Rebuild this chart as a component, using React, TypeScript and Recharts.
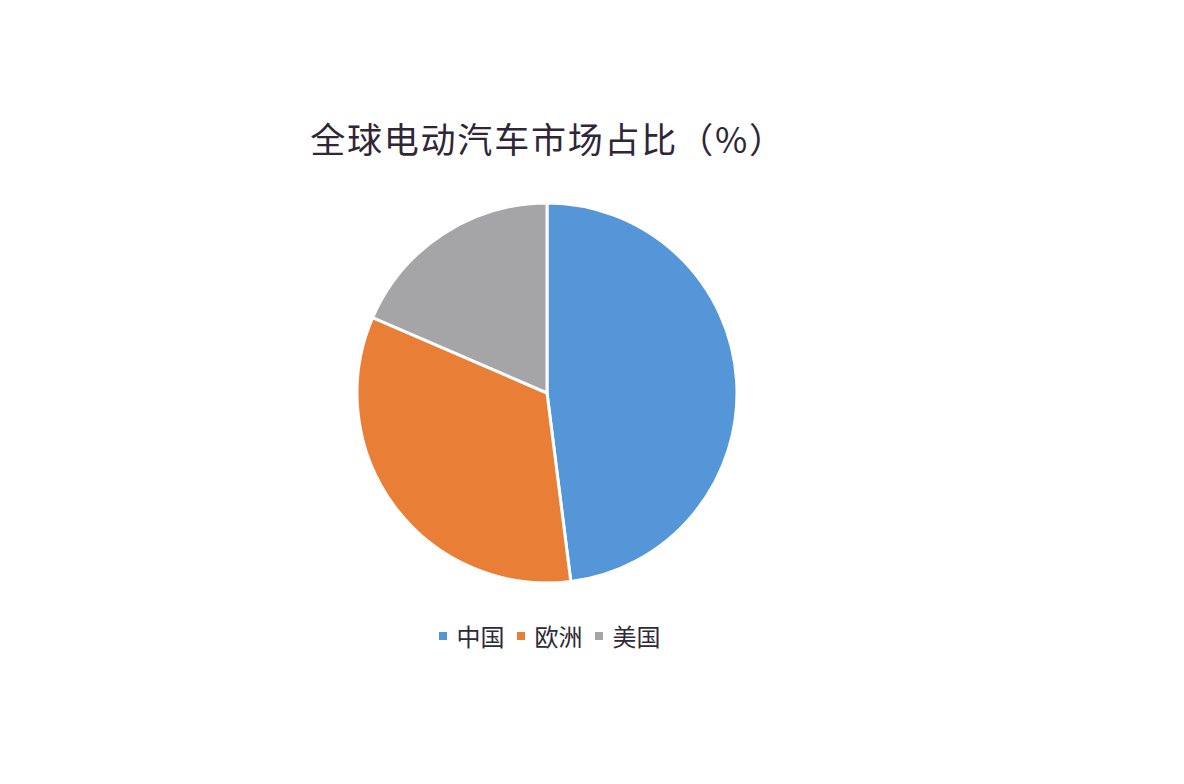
import { Cell, Legend, Pie, PieChart } from "recharts";

const regions = ["中国", "欧洲", "美国"];
const shares = [48, 33.5, 18.5];
const colors = ["#5596d8", "#e97f37", "#a5a5a7"];

const data = regions.map((name, i) => ({ name, value: shares[i] }));

const font = '"Noto Sans CJK SC", "Noto Sans", sans-serif';

function LegendRow() {
  return (
    <div style={{ display: "flex", justifyContent: "center", alignItems: "center", fontFamily: font }}>
      {data.map((d, i) => (
        <span key={d.name} style={{ display: "inline-flex", alignItems: "center", marginRight: i < data.length - 1 ? 12 : 0 }}>
          <span style={{ width: 8, height: 8, background: colors[i], display: "inline-block", marginRight: 10 }} />
          <span style={{ fontSize: 24, color: "#2e2a36" }}>{d.name}</span>
        </span>
      ))}
    </div>
  );
}

export default function App() {
  return (
    <div style={{ position: "absolute", left: 0, top: 0, width: 1184, height: 784, background: "#ffffff" }}>
      <div
        style={{
          position: "absolute",
          top: 112,
          left: 0,
          width: 1096,
          textAlign: "center",
          fontFamily: font,
          fontSize: 35,
          letterSpacing: 1.8,
          color: "#2f2638",
          lineHeight: "52px",
        }}
      >
        全球电动汽车市场占比（%）
      </div>
      <PieChart width={1184} height={784}>
        <Pie
          data={data}
          dataKey="value"
          nameKey="name"
          cx={542}
          cy={388}
          outerRadius={190}
          startAngle={90}
          endAngle={-270}
          stroke="#ffffff"
          strokeWidth={3}
          isAnimationActive={false}
        >
          {data.map((d, i) => (
            <Cell key={d.name} fill={colors[i]} />
          ))}
        </Pie>
        <Legend
          content={() => <LegendRow />}
          wrapperStyle={{ position: "absolute", top: 618, left: 0, width: 1099 }}
        />
      </PieChart>
    </div>
  );
}
